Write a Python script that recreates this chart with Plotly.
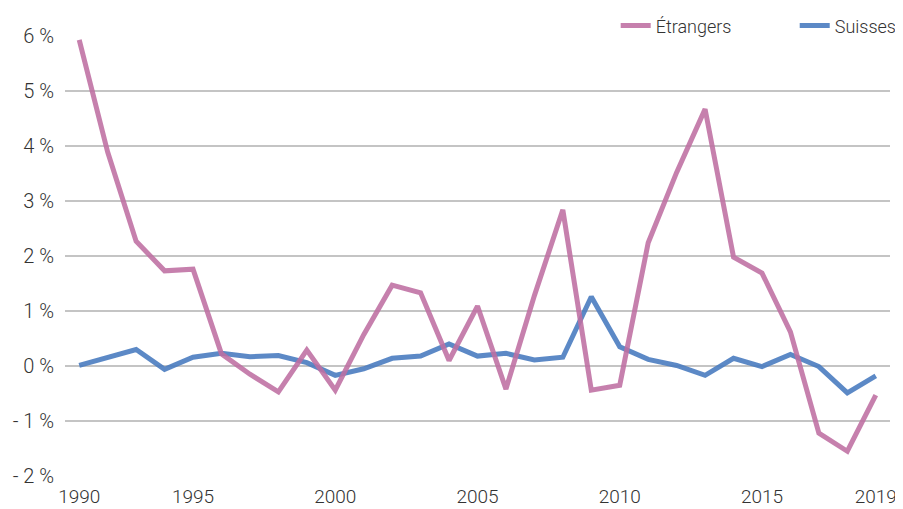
import plotly.graph_objects as go

years = list(range(1991, 2020))
etrangers = [5.93, 3.89, 2.27, 1.73, 1.76, 0.22, -0.15, -0.47, 0.29, -0.44,
             0.57, 1.47, 1.33, 0.10, 1.09, -0.42, 1.28, 2.84, -0.44, -0.35,
             2.24, 3.52, 4.67, 1.98, 1.69, 0.62, -1.22, -1.55, -0.53]
suisses = [0.01, 0.16, 0.30, -0.06, 0.16, 0.23, 0.17, 0.19, 0.06, -0.17,
           -0.05, 0.14, 0.18, 0.40, 0.18, 0.23, 0.11, 0.16, 1.26, 0.35,
           0.12, 0.01, -0.17, 0.14, -0.01, 0.21, -0.01, -0.49, -0.18]
x_tickvals = [1991, 1995, 2000, 2005, 2010, 2015, 2019]
x_ticktext = ["1990", "1995", "2000", "2005", "2010", "2015", "2019"]
y_tickvals = [-2, -1, 0, 1, 2, 3, 4, 5, 6]
y_ticktext = ["- 2 %", "- 1 %", "0 %", "1 %", "2 %", "3 %", "4 %", "5 %", "6 %"]

PINK = "rgba(190,110,162,0.88)"
BLUE = "rgba(74,124,192,0.9)"
FONT = "Roboto, Open Sans, sans-serif"
TXT = "#333333"

fig = go.Figure()
fig.add_trace(go.Scatter(x=years, y=suisses, mode="lines", name="Suisses",
                         line=dict(color=BLUE, width=5), legend="legend2"))
fig.add_trace(go.Scatter(x=years, y=etrangers, mode="lines", name="Étrangers",
                         line=dict(color=PINK, width=5), legend="legend"))

legend_font = dict(family=FONT, size=18, color=TXT, weight=300)

# the page body adds an 8px offset, so the figure is 8px smaller and margins shifted
fig.update_layout(
    width=895, height=501,
    margin=dict(l=57, r=13, t=28, b=33, autoexpand=False),
    paper_bgcolor="white", plot_bgcolor="white",
    font=dict(family=FONT, size=19, color=TXT, weight=300),
    showlegend=True,
    legend=dict(orientation="h", x=0.6675, xanchor="left", y=1.023, yanchor="middle",
                font=legend_font, itemwidth=30, bgcolor="rgba(0,0,0,0)"),
    legend2=dict(orientation="h", x=0.8845, xanchor="left", y=1.023, yanchor="middle",
                 font=legend_font, itemwidth=30, bgcolor="rgba(0,0,0,0)"),
    xaxis=dict(range=[1990.5, 2019.5], tickvals=x_tickvals, ticktext=x_ticktext,
               showgrid=False, zeroline=False, showline=False,
               ticks="outside", ticklen=3, tickcolor="rgba(0,0,0,0)",
               tickfont=dict(family=FONT, size=19, color=TXT, weight=300)),
    yaxis=dict(range=[-2, 6], tickvals=y_tickvals, ticktext=y_ticktext,
               showgrid=True, gridcolor="#C4C4C4", gridwidth=1.5, zeroline=False,
               showline=False, ticks="outside", ticklen=6, tickcolor="rgba(0,0,0,0)",
               tickfont=dict(family=FONT, size=20, color=TXT, weight=300)),
)

fig.write_html("out.html")
